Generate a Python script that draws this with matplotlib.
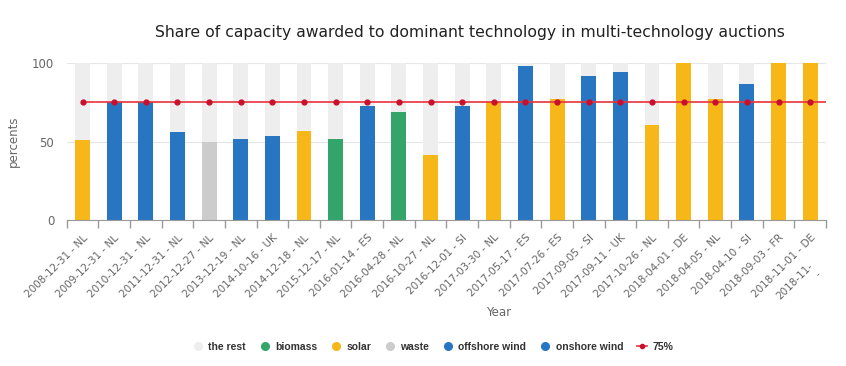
import matplotlib.pyplot as plt
from matplotlib.lines import Line2D
from matplotlib.transforms import blended_transform_factory

# auction labels (the last one is cut off in the source chart)
labels = ['2008-12-31 - NL', '2009-12-31 - NL', '2010-12-31 - NL', '2011-12-31 - NL',
          '2012-12-27 - NL', '2013-12-19 - NL', '2014-10-16 - UK', '2014-12-18 - NL',
          '2015-12-17 - NL', '2016-01-14 - ES', '2016-04-28 - NL', '2016-10-27 - NL',
          '2016-12-01 - SI', '2017-03-30 - NL', '2017-05-17 - ES', '2017-07-26 - ES',
          '2017-09-05 - SI', '2017-09-11 - UK', '2017-10-26 - NL', '2018-04-01 - DE',
          '2018-04-05 - NL', '2018-04-10 - SI', '2018-09-03 - FR', '2018-11-01 - DE']
last_label = '2018-11-\n-'

share = [51, 75, 75, 56, 49.5, 52, 53.5, 57, 52, 73, 69, 41.5,
         73, 75, 98.5, 77, 92, 94.5, 60.5, 100, 77, 86.5, 100, 100]
tech = ['solar', 'onshore wind', 'onshore wind', 'onshore wind', 'waste',
        'onshore wind', 'offshore wind', 'solar', 'biomass', 'onshore wind',
        'biomass', 'solar', 'onshore wind', 'solar', 'offshore wind', 'solar',
        'onshore wind', 'offshore wind', 'solar', 'solar', 'solar',
        'onshore wind', 'solar', 'solar']
threshold = 75

colors = {'the rest': '#eeeeee', 'biomass': '#33a56a', 'solar': '#f7b718',
          'waste': '#cccccc', 'offshore wind': '#2876c2', 'onshore wind': '#2876c2'}

fig = plt.figure(figsize=(8.46, 3.66), dpi=100)
ax = fig.add_axes([66.7/846, 1-220/366, (826-66.7)/846, (220-63.3)/366])

x = list(range(len(labels)))
rest = [100 - v for v in share]
ax.bar(x, share, width=0.47, color=[colors[t] for t in tech], zorder=2)
ax.bar(x, rest, bottom=share, width=0.47, color=colors['the rest'], zorder=1)
ax.plot(list(range(len(labels) + 1)), [threshold] * (len(labels) + 1),
        color='#e8323c', lw=1.2, marker='o', ms=3.5, mfc='#c8102e', mec='#c8102e',
        zorder=3, clip_on=True)

ax.set_xlim(-0.5, (826 - 66.7) / 32 - 0.5)
ax.set_ylim(0, 100)
ax.set_yticks([0, 50, 100])
ax.tick_params(axis='y', length=0, labelsize=8.5, labelcolor='#666666', pad=9)
ax.grid(axis='y', color='#e6e6e6', lw=0.8, zorder=0)
ax.set_axisbelow(True)
for s in ['top', 'right', 'left']:
    ax.spines[s].set_visible(False)
ax.spines['bottom'].set_color('#999999')

ax.set_xticks(x)
ax.set_xticklabels(labels, rotation=45, ha='right', rotation_mode='anchor',
                   fontsize=7.5, color='#666666')
ax.tick_params(axis='x', length=0, pad=9)
ax.set_xticks([i - 0.5 for i in range(len(labels) + 1)], minor=True)
ax.tick_params(axis='x', which='minor', length=6, color='#999999', width=1)

trans = blended_transform_factory(ax.transData, ax.transAxes)
ax.text(23.17, -0.31, last_label, transform=trans, rotation=45, ha='right',
        va='center', rotation_mode='anchor', fontsize=7.5, color='#666666',
        multialignment='right', clip_on=False)

ax.set_ylabel('percents', fontsize=8.5, color='#666666')
ax.yaxis.set_label_coords((20 - 66.7) / 759.3, 0.5)
fig.text(499/846, 1-312/366, 'Year', fontsize=8.5, color='#666666',
         ha='center', va='center')
fig.text(470/846, 1-33/366,
         'Share of capacity awarded to dominant technology in multi-technology auctions',
         fontsize=11.25, color='#222222', ha='center', va='center')

handles = [Line2D([], [], ls='none', marker='o', ms=5.5, mfc=colors[k], mec=colors[k])
           for k in colors]
handles.append(Line2D([], [], color='#e8323c', lw=1.2, marker='o', ms=3,
                      mfc='#c8102e', mec='#c8102e'))
names = list(colors) + ['75%']
leg = fig.legend(handles, names, loc='center', bbox_to_anchor=(433/846, 1-347/366),
                 ncol=7, frameon=False, handlelength=1.0, handletextpad=0.5,
                 columnspacing=1.3,
                 prop={'family': 'Liberation Sans', 'weight': 'bold', 'size': 7.5})
for t in leg.get_texts():
    t.set_color('#333333')

fig.savefig('out.png', dpi=100)
